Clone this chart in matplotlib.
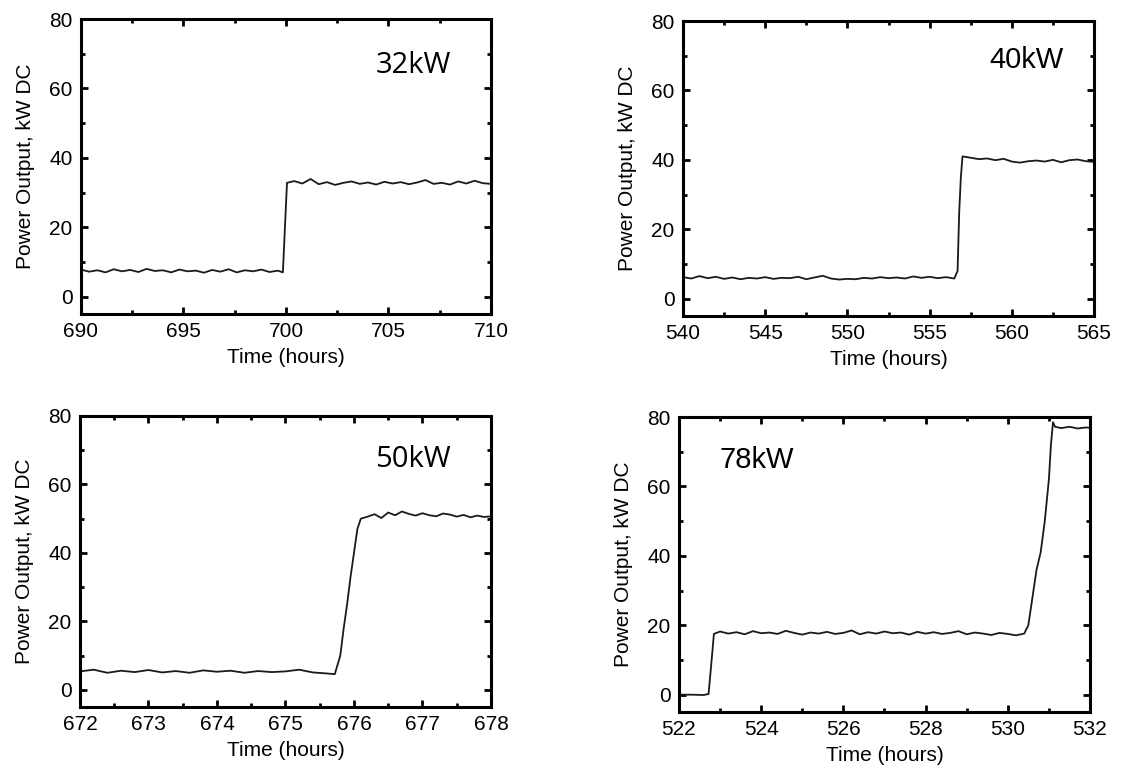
import matplotlib
matplotlib.use("Agg")
import matplotlib.pyplot as plt
from matplotlib.ticker import MultipleLocator

# 32 kW test (hours, kW DC)
t_32 = [690.0, 690.4, 690.8, 691.2, 691.6, 692.0, 692.4, 692.8, 693.2, 693.6,
        694.0, 694.4, 694.8, 695.2, 695.6, 696.0, 696.4, 696.8, 697.2, 697.6,
        698.0, 698.4, 698.8, 699.2, 699.6, 699.85, 699.95, 700.05,
        700.4, 700.8, 701.2, 701.6, 702.0, 702.4, 702.8, 703.2, 703.6, 704.0,
        704.4, 704.8, 705.2, 705.6, 706.0, 706.4, 706.8, 707.2, 707.6, 708.0,
        708.4, 708.8, 709.2, 709.6, 710.0]
p_32 = [7.8, 7.2, 7.6, 7.0, 7.9, 7.3, 7.7, 7.1, 8.0, 7.4,
        7.6, 7.0, 7.8, 7.3, 7.5, 6.9, 7.7, 7.2, 7.9, 7.0,
        7.6, 7.3, 7.8, 7.1, 7.5, 7.0, 20.0, 32.8,
        33.3, 32.6, 33.9, 32.4, 33.0, 32.2, 32.8, 33.2, 32.5, 32.9,
        32.3, 33.1, 32.6, 33.0, 32.4, 32.9, 33.6, 32.5, 32.8, 32.3,
        33.2, 32.6, 33.4, 32.7, 32.5]

# 40 kW test
t_40 = [540.0, 540.5, 541.0, 541.5, 542.0, 542.5, 543.0, 543.5, 544.0, 544.5,
        545.0, 545.5, 546.0, 546.5, 547.0, 547.5, 548.0, 548.5, 549.0, 549.5,
        550.0, 550.5, 551.0, 551.5, 552.0, 552.5, 553.0, 553.5, 554.0, 554.5,
        555.0, 555.5, 556.0, 556.5, 556.7, 556.8, 556.9, 557.0,
        557.5, 558.0, 558.5, 559.0, 559.5, 560.0, 560.5, 561.0, 561.5, 562.0,
        562.5, 563.0, 563.5, 564.0, 564.5, 565.0]
p_40 = [6.2, 5.8, 6.5, 5.9, 6.3, 5.7, 6.1, 5.6, 6.0, 5.8,
        6.2, 5.7, 6.0, 5.9, 6.3, 5.6, 6.1, 6.6, 5.8, 5.5,
        5.7, 5.6, 6.0, 5.8, 6.2, 5.9, 6.1, 5.8, 6.4, 6.0,
        6.3, 5.9, 6.2, 5.8, 8.0, 25.0, 35.0, 41.0,
        40.6, 40.2, 40.4, 39.9, 40.3, 39.5, 39.2, 39.6, 39.8, 39.5,
        40.0, 39.3, 39.9, 40.1, 39.6, 39.4]

# 50 kW test
t_50 = [672.0, 672.2, 672.4, 672.6, 672.8, 673.0, 673.2, 673.4, 673.6, 673.8,
        674.0, 674.2, 674.4, 674.6, 674.8, 675.0, 675.2, 675.4, 675.6, 675.72,
        675.8, 675.85, 675.9, 675.95, 676.0, 676.05, 676.1,
        676.2, 676.3, 676.4, 676.5, 676.6, 676.7, 676.8, 676.9, 677.0, 677.1,
        677.2, 677.3, 677.4, 677.5, 677.6, 677.7, 677.8, 677.9, 678.0]
p_50 = [5.4, 5.9, 5.0, 5.6, 5.2, 5.8, 5.1, 5.5, 5.0, 5.7,
        5.3, 5.6, 5.0, 5.5, 5.2, 5.4, 5.9, 5.1, 4.8, 4.6,
        10.0, 18.0, 25.0, 33.0, 40.0, 47.0, 50.0,
        50.6, 51.3, 50.2, 51.8, 51.0, 52.1, 51.4, 50.9, 51.6, 51.0,
        50.7, 51.5, 51.2, 50.6, 51.1, 50.4, 50.9, 50.5, 50.7]

# 78 kW test
t_78 = [522.0, 522.3, 522.6, 522.72, 522.78, 522.85,
        523.0, 523.2, 523.4, 523.6, 523.8, 524.0, 524.2, 524.4, 524.6, 524.8,
        525.0, 525.2, 525.4, 525.6, 525.8, 526.0, 526.2, 526.4, 526.6, 526.8,
        527.0, 527.2, 527.4, 527.6, 527.8, 528.0, 528.2, 528.4, 528.6, 528.8,
        529.0, 529.2, 529.4, 529.6, 529.8, 530.0, 530.2, 530.4,
        530.5, 530.6, 530.7, 530.8, 530.9, 531.0, 531.05, 531.1, 531.15,
        531.3, 531.5, 531.7, 531.9, 532.0]
p_78 = [0.0, 0.0, -0.1, 0.2, 8.0, 17.5,
        18.2, 17.6, 18.0, 17.4, 18.3, 17.7, 17.9, 17.5, 18.4, 17.8,
        17.3, 17.9, 17.6, 18.1, 17.5, 17.8, 18.5, 17.4, 18.0, 17.6,
        18.2, 17.7, 17.9, 17.3, 18.1, 17.6, 18.0, 17.5, 17.8, 18.3,
        17.4, 17.9, 17.6, 17.2, 17.8, 17.5, 17.1, 17.6,
        20.0, 28.0, 36.0, 41.0, 50.0, 62.0, 72.0, 78.5, 77.2,
        76.8, 77.2, 76.7, 77.0, 76.9]

panels = [
    (t_32, p_32, (690, 710), 5, 2.5, "32kW", (706.2, 66.7), "Open Sans"),
    (t_40, p_40, (540, 565), 5, 2.5, "40kW", (560.9, 68.9), "Liberation Sans"),
    (t_50, p_50, (672, 678), 1, 0.5, "50kW", (676.86, 67.3), "Open Sans"),
    (t_78, p_78, (522, 532), 2, 1, "78kW", (523.9, 67.6), "Liberation Sans"),
]

positions = [
    [0.0721, 0.5922, 0.3651, 0.3831],
    [0.6082, 0.5896, 0.3660, 0.3831],
    [0.0712, 0.0818, 0.3660, 0.3780],
    [0.6046, 0.0753, 0.3660, 0.3831],
]

plt.rcParams['font.family'] = ['Liberation Sans', 'DejaVu Sans']

fig = plt.figure(figsize=(11.23, 7.70), dpi=100)

for (t, p, xlim, xmaj, xmin, label, pos, fam), rect in zip(panels, positions):
    ax = fig.add_axes(rect)
    ax.plot(t, p, color="#1a1a1a", linewidth=1.3)
    ax.set_xlim(*xlim)
    ax.set_ylim(-5, 80)
    ax.xaxis.set_major_locator(MultipleLocator(xmaj))
    ax.xaxis.set_minor_locator(MultipleLocator(xmin))
    ax.yaxis.set_major_locator(MultipleLocator(20))
    ax.yaxis.set_minor_locator(MultipleLocator(10))
    ax.tick_params(which="both", direction="in", top=True, right=True,
                   width=2, labelsize=15, pad=6)
    ax.tick_params(which="major", length=5)
    ax.tick_params(which="minor", length=3)
    for s in ax.spines.values():
        s.set_linewidth(2.2)
    ax.set_xlabel("Time (hours)", fontsize=15, labelpad=5)
    ax.set_ylabel("Power Output, kW DC", fontsize=15, labelpad=10)
    ax.text(pos[0], pos[1], label, fontsize=21, family=fam,
            ha="center", va="center")

fig.savefig("out.png", dpi=100)
